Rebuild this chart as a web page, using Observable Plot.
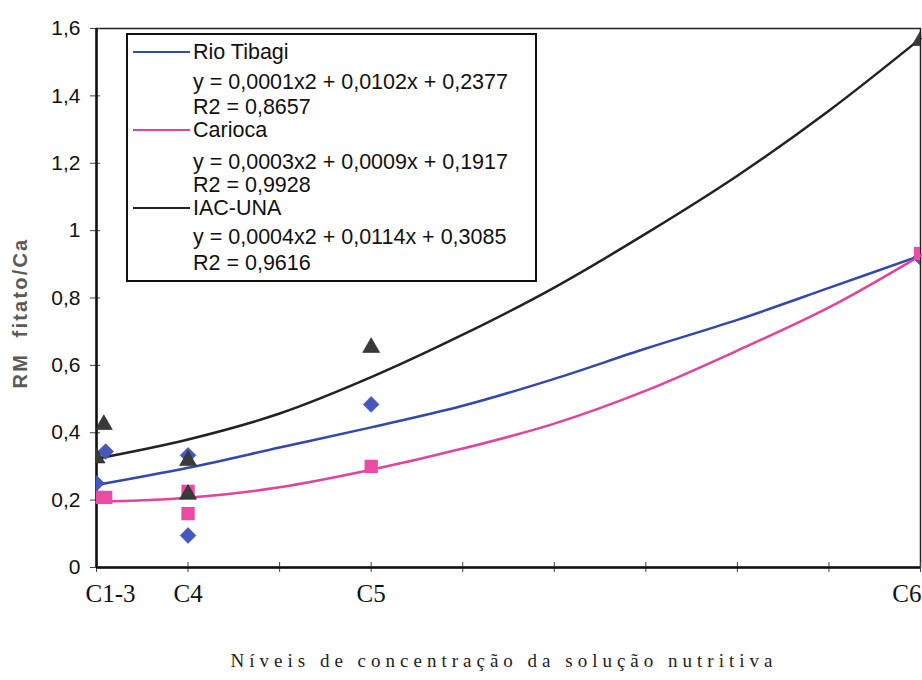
<!DOCTYPE html>
<html><head><meta charset="utf-8">
<script src="https://cdn.jsdelivr.net/npm/d3@7"></script>
<script src="https://cdn.jsdelivr.net/npm/@observablehq/plot@0.6"></script>
<style>
body{margin:0;background:#fff;}
#wrap{position:relative;width:922px;height:680px;overflow:hidden;}
#legend{position:absolute;left:126px;top:33px;width:407px;height:245px;border:2px solid #111;background:#fff;font-family:"Liberation Sans",Arial,sans-serif;font-size:21.5px;color:#111;}
.row{position:absolute;left:65px;line-height:24px;white-space:nowrap;}
.sw{position:absolute;left:5px;width:57px;height:0;border-top:2.5px solid;}
#ylab{position:absolute;left:20px;top:313px;transform:translate(-50%,-50%) rotate(-90deg);font-family:"Liberation Sans",Arial,sans-serif;font-weight:bold;font-size:20px;letter-spacing:2.2px;color:#5a5a5a;white-space:pre;}
#xlab{position:absolute;left:0;width:1008px;top:650px;text-align:center;font-family:"Liberation Serif","Times New Roman",serif;font-size:19px;letter-spacing:5px;color:#222;white-space:nowrap;}
</style></head>
<body>
<div id="wrap"></div>
<script>
// ---- data ----
const seriesNames = ["Rio Tibagi", "Carioca", "IAC-UNA"];
const seriesEquations = ["y = 0,0001x2 + 0,0102x + 0,2377", "y = 0,0003x2 + 0,0009x + 0,1917", "y = 0,0004x2 + 0,0114x + 0,3085"];
const seriesR2 = ["R2 = 0,8657", "R2 = 0,9928", "R2 = 0,9616"];
const seriesColors = ["#3447ad", "#e2449c", "#222222"];

const xTickLabels = ["C1-3", "C4", "C5", "C6"];
const xTickValues = [0, 5, 15, 45];
const xGridTicks = [0, 5, 10, 15, 20, 25, 30, 35, 40, 45];
const yTicks = [0, 0.2, 0.4, 0.6, 0.8, 1.0, 1.2, 1.4, 1.6];
const yLabel = "RM  fitato/Ca";
const xTitle = "Níveis de concentração da solução nutritiva";

// trend curves
const curveX = [0, 5, 10, 15, 20, 25, 30, 35, 40, 45];
const tibagiCurve = [0.245, 0.296, 0.356, 0.416, 0.48, 0.56, 0.65, 0.735, 0.83, 0.926];
const cariocaCurve = [0.195, 0.207, 0.238, 0.29, 0.353, 0.427, 0.525, 0.644, 0.772, 0.926];
const iacCurve = [0.323, 0.38, 0.457, 0.565, 0.691, 0.831, 0.991, 1.163, 1.356, 1.57];

// observed points
const tibagiPtsX = [0, 0.5, 5, 5, 15, 45];
const tibagiPtsY = [0.25, 0.344, 0.333, 0.095, 0.484, 0.92];
const cariocaPtsX = [0, 0.5, 5, 5, 15, 45];
const cariocaPtsY = [0.208, 0.208, 0.226, 0.16, 0.30, 0.932];
const iacPtsX = [0, 0.4, 5, 5, 15, 45];
const iacPtsY = [0.325, 0.424, 0.317, 0.217, 0.653, 1.564];

// ---- build ----
const curves = [tibagiCurve, cariocaCurve, iacCurve].flatMap((c, s) =>
  c.map((v, i) => ({series: seriesNames[s], x: curveX[i], y: v})));
const pts = (xs, ys) => xs.map((x, i) => ({x, y: ys[i]}));
const fmt = d => (Math.round(d * 10) / 10).toString().replace(".", ",");
const labels = xTickLabels.map((t, i) => ({t, x: xTickValues[i], i}));
const serif = "'Liberation Serif', 'Times New Roman', serif";

const chart = Plot.plot({
  width: 922, height: 680,
  marginLeft: 96, marginRight: 2, marginTop: 28, marginBottom: 113,
  x: {domain: [0, 45]},
  y: {domain: [0, 1.6]},
  color: {domain: seriesNames, range: seriesColors},
  style: {fontFamily: "'Liberation Sans', Arial, sans-serif", fontSize: "21px", color: "#111", background: "white"},
  marks: [
    Plot.frame({stroke: "#222", strokeWidth: 1.5}),
    Plot.axisY({ticks: yTicks, tickSize: 10, dx: 4, tickPadding: 10, tickFormat: fmt, label: null, fontSize: 21, stroke: "#444"}),
    Plot.axisX({ticks: xGridTicks, tickSize: 10, dy: -5, tickFormat: () => "", label: null, stroke: "#444"}),
    Plot.ruleX([0], {stroke: "#111", strokeWidth: 2.5}),
    Plot.ruleY([0], {stroke: "#111", strokeWidth: 2.5}),
    Plot.line(curves, {x: "x", y: "y", z: "series", stroke: "series", strokeWidth: 2.5, curve: "catmull-rom"}),
    Plot.dot(pts(tibagiPtsX, tibagiPtsY), {x: "x", y: "y", symbol: "diamond2", r: 7.1, fill: "#4558bd", stroke: "#3a4aa8", strokeWidth: 0.6, clip: "frame"}),
    Plot.dot(pts(cariocaPtsX, cariocaPtsY), {x: "x", y: "y", symbol: "square", r: 7.5, fill: "#ec4aa5", clip: "frame"}),
    Plot.dot(pts(iacPtsX, iacPtsY), {x: "x", y: "y", symbol: "triangle", r: 6.3, fill: "#3a3a3a", stroke: "#222", strokeWidth: 0.6, clip: "frame"}),
    Plot.text(labels.filter(d => d.i === 0), {x: "x", text: "t", frameAnchor: "bottom", dy: 34, dx: 14, fontFamily: serif, fontSize: 25, fill: "#111"}),
    Plot.text(labels.filter(d => d.i > 0 && d.i < 3), {x: "x", text: "t", frameAnchor: "bottom", dy: 34, fontFamily: serif, fontSize: 25, fill: "#111"}),
    Plot.text(labels.filter(d => d.i === 3), {x: "x", text: "t", frameAnchor: "bottom", dy: 34, dx: 1, textAnchor: "end", fontFamily: serif, fontSize: 25, fill: "#111"})
  ]
});
const wrap = document.getElementById("wrap");
wrap.appendChild(chart);

// legend box
const leg = document.createElement("div");
leg.id = "legend";
const rowCenters = [17, 47, 72, 95, 127, 150, 173, 202, 228];
seriesNames.forEach((name, s) => {
  const texts = [name, seriesEquations[s], seriesR2[s]];
  texts.forEach((t, k) => {
    const c = rowCenters[s * 3 + k];
    const r = document.createElement("div");
    r.className = "row";
    r.style.top = (c - 12) + "px";
    r.textContent = t;
    leg.appendChild(r);
    if (k === 0) {
      const sw = document.createElement("div");
      sw.className = "sw";
      sw.style.top = (c - 1) + "px";
      sw.style.borderTopColor = seriesColors[s];
      leg.appendChild(sw);
    }
  });
});
wrap.appendChild(leg);

const yl = document.createElement("div");
yl.id = "ylab"; yl.textContent = yLabel;
wrap.appendChild(yl);
const xl = document.createElement("div");
xl.id = "xlab"; xl.textContent = xTitle;
wrap.appendChild(xl);
</script>
</body></html>
